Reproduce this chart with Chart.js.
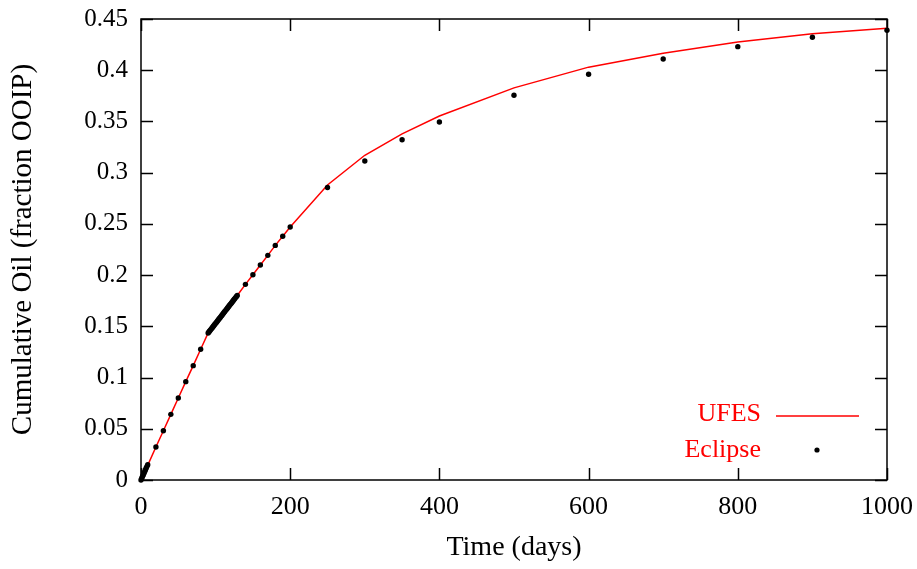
<!DOCTYPE html>
<html>
<head>
<meta charset="utf-8">
<script src="https://cdn.jsdelivr.net/npm/chart.js@4"></script>
<style>
html,body{margin:0;padding:0;background:#fff;}
#wrap{width:917px;height:569px;}
</style>
</head>
<body>
<div id="wrap"><canvas id="c" width="917" height="569"></canvas></div>
<script>
// ---- data ----
const ufesDays = [0, 10, 20, 30, 40, 50, 60, 70, 80, 90, 100, 110, 120, 130, 140, 150, 160, 170, 180, 190, 200, 250, 300, 350, 400, 500, 600, 700, 800, 900, 1000];
const ufesOil  = [0, 0.0160, 0.0322, 0.0481, 0.0641, 0.0800, 0.0960, 0.1116, 0.1276, 0.1435, 0.1529, 0.1623, 0.1717, 0.1811, 0.1910, 0.2004, 0.2099, 0.2193, 0.2290, 0.2380, 0.2470, 0.2880, 0.3170, 0.3378, 0.3553, 0.3828, 0.4030, 0.4165, 0.4275, 0.4355, 0.4410];

const eclipseDays = [0, 1, 2, 3, 4, 5, 6, 7, 8, 9,
  20, 30, 40, 50, 60, 70, 80,
  90, 91, 92, 93, 94, 95, 96, 97, 98, 99, 100, 101, 102, 103, 104, 105, 106, 107, 108, 109,
  110, 111, 112, 113, 114, 115, 116, 117, 118, 119, 120, 121, 122, 123, 124, 125, 126, 127, 128, 129,
  140, 150, 160, 170, 180, 190, 200, 250, 300, 350, 400, 500, 600, 700, 800, 900, 1000];
const eclipseOil = [0, 0.0017, 0.0034, 0.0050, 0.0067, 0.0084, 0.0100, 0.0117, 0.0133, 0.0150,
  0.0322, 0.0481, 0.0641, 0.0800, 0.0960, 0.1116, 0.1276,
  0.1435, 0.1444, 0.1454, 0.1463, 0.1473, 0.1482, 0.1491, 0.1501, 0.1510, 0.1520, 0.1529, 0.1538, 0.1548, 0.1557, 0.1567, 0.1576, 0.1585, 0.1595, 0.1604, 0.1614,
  0.1623, 0.1632, 0.1642, 0.1651, 0.1661, 0.1670, 0.1679, 0.1689, 0.1698, 0.1708, 0.1717, 0.1726, 0.1736, 0.1745, 0.1755, 0.1764, 0.1773, 0.1783, 0.1792, 0.1802,
  0.1910, 0.2004, 0.2099, 0.2193, 0.2290, 0.2380, 0.2470, 0.2855, 0.3114, 0.3322, 0.3495, 0.3755, 0.3960, 0.4110, 0.4230, 0.4322, 0.4390];

const xTickValues = [0, 200, 400, 600, 800, 1000];
const xTickLabels = ['0', '200', '400', '600', '800', '1000'];
const yTickValues = [0, 0.05, 0.1, 0.15, 0.2, 0.25, 0.3, 0.35, 0.4, 0.45];
const yTickLabels = ['0', '0.05', '0.1', '0.15', '0.2', '0.25', '0.3', '0.35', '0.4', '0.45'];

const seriesNames = ['UFES', 'Eclipse'];
const xTitle = 'Time (days)';
const yTitle = 'Cumulative Oil (fraction OOIP)';

// ---- styles ----
const FONT = '"Liberation Serif", "Times New Roman", serif';
const TICK_LEN = 12;

const frameTicks = {
  id: 'frameTicks',
  beforeDatasetsDraw(chart) {
    const ctx = chart.ctx, a = chart.chartArea;
    const xs = chart.scales.x, ys = chart.scales.y;
    ctx.save();
    ctx.strokeStyle = '#000';
    ctx.lineWidth = 1.5;
    ctx.strokeRect(a.left, a.top, a.right - a.left, a.bottom - a.top);
    ctx.beginPath();
    xTickValues.forEach(v => {
      const px = Math.round(xs.getPixelForValue(v)) + 0.5;
      ctx.moveTo(px, a.bottom); ctx.lineTo(px, a.bottom - TICK_LEN);
      ctx.moveTo(px, a.top); ctx.lineTo(px, a.top + TICK_LEN);
    });
    yTickValues.forEach(v => {
      const py = Math.round(ys.getPixelForValue(v)) + 0.5;
      ctx.moveTo(a.left, py); ctx.lineTo(a.left + TICK_LEN, py);
      ctx.moveTo(a.right, py); ctx.lineTo(a.right - TICK_LEN, py);
    });
    ctx.stroke();

    // legend
    ctx.font = '26px ' + FONT;
    ctx.textAlign = 'right';
    ctx.textBaseline = 'middle';
    ctx.fillStyle = '#ff0000';
    ctx.fillText(seriesNames[0], 761, 414);
    ctx.fillText(seriesNames[1], 761, 450);
    ctx.strokeStyle = '#ff0000';
    ctx.lineWidth = 1.5;
    ctx.beginPath();
    ctx.moveTo(776, 416); ctx.lineTo(859, 416);
    ctx.stroke();
    ctx.fillStyle = '#000';
    ctx.beginPath();
    ctx.arc(817, 450, 2.6, 0, Math.PI * 2);
    ctx.fill();
    ctx.restore();
  }
};

new Chart(document.getElementById('c'), {
  type: 'scatter',
  data: {
    datasets: [
      {
        label: seriesNames[0],
        data: ufesDays.map((d, i) => ({x: d, y: ufesOil[i]})),
        showLine: true,
        borderColor: '#ff0000',
        borderWidth: 1.5,
        pointRadius: 0,
        fill: false,
        order: 2
      },
      {
        label: seriesNames[1],
        data: eclipseDays.map((d, i) => ({x: d, y: eclipseOil[i]})),
        showLine: false,
        clip: false,
        pointRadius: 2.7,
        pointBackgroundColor: '#000',
        pointBorderWidth: 0,
        borderColor: '#000',
        order: 1
      }
    ]
  },
  options: {
    responsive: false,
    animation: false,
    layout: { padding: { left: 0, right: 30, top: 19, bottom: 0 } },
    plugins: { legend: { display: false }, tooltip: { enabled: false } },
    scales: {
      x: {
        type: 'linear', min: 0, max: 1000,
        afterBuildTicks: s => { s.ticks = xTickValues.map(v => ({value: v})); },
        afterFit: s => { s.height = 89; s.paddingLeft = 0; s.paddingRight = 0; },
        grid: { display: false, drawTicks: false },
        border: { display: false },
        ticks: {
          color: '#000', padding: 12, maxRotation: 0, autoSkip: false,
          font: { family: FONT, size: 26 },
          callback: (v, i) => xTickLabels[i]
        },
        title: { display: true, text: xTitle, color: '#000', font: { family: FONT, size: 28 }, padding: { top: 5, bottom: 5 } }
      },
      y: {
        type: 'linear', min: 0, max: 0.45,
        afterBuildTicks: s => { s.ticks = yTickValues.map(v => ({value: v})); },
        afterFit: s => { s.width = 141; s.paddingTop = 0; s.paddingBottom = 0; },
        grid: { display: false, drawTicks: false },
        border: { display: false },
        ticks: {
          color: '#000', padding: 13, autoSkip: false,
          font: { family: FONT, size: 25 },
          callback: (v, i) => yTickLabels[i]
        },
        title: { display: true, text: yTitle, color: '#000', font: { family: FONT, size: 29 }, padding: { top: 6, bottom: 0 } }
      }
    }
  },
  plugins: [frameTicks]
});
</script>
</body>
</html>
